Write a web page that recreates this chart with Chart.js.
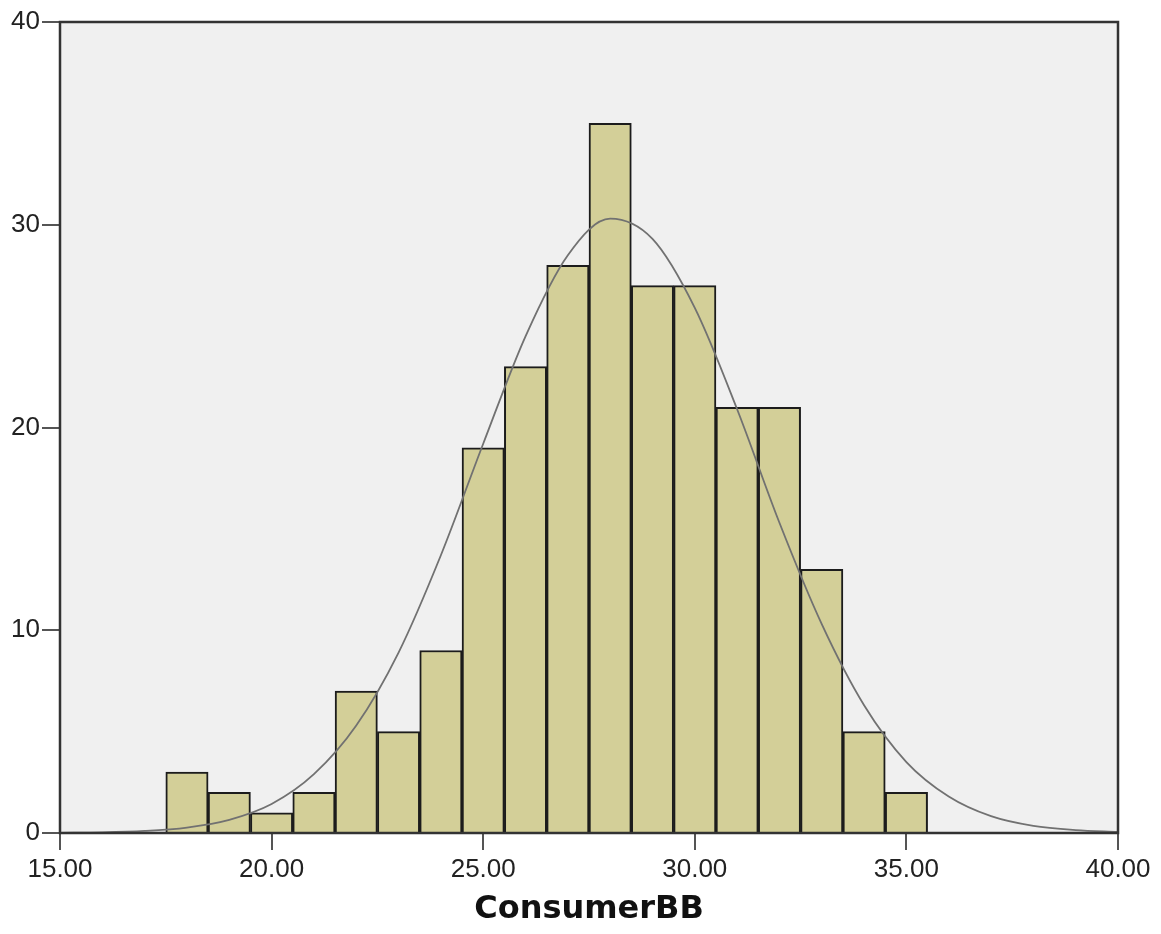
<!DOCTYPE html>
<html>
<head>
<meta charset="utf-8">
<script src="https://cdn.jsdelivr.net/npm/chart.js@4/dist/chart.umd.min.js"></script>
<style>
  body { margin: 0; background: #fff; }
  canvas { display: block; }
</style>
</head>
<body>
<canvas id="histChart" width="1161" height="934"></canvas>
<script>
// bins of width 1, given by their centers
let binCenters = [18, 19, 20, 21, 22, 23, 24, 25, 26, 27, 28, 29, 30, 31, 32, 33, 34, 35];
let counts = [3, 2, 1, 2, 7, 5, 9, 19, 23, 28, 35, 27, 27, 21, 21, 13, 5, 2];

// normal curve, read at whole values
let curveX = [15, 16, 17, 18, 19, 20, 21, 22, 23, 24, 25, 26, 27, 28, 29, 30, 31, 32, 33, 34, 35, 36, 37, 38, 39, 40];
let curveY = [0.01, 0.03, 0.1, 0.27, 0.65, 1.43, 2.9, 5.3, 8.9, 13.7, 19.2, 24.5, 28.5, 30.3, 29.3, 25.9, 20.9, 15.3, 10.3, 6.3, 3.5, 1.8, 0.83, 0.35, 0.14, 0.05];

let xTicks = [15, 20, 25, 30, 35, 40];
let yTicks = [0, 10, 20, 30, 40];

// plot background and the frame round it
const frame = {
    id: "frame",
    beforeDatasetsDraw(chart) {
        const a = chart.chartArea;
        const c = chart.ctx;
        c.save();
        c.fillStyle = "#f0f0f0";
        c.fillRect(a.left, a.top, a.right - a.left, a.bottom - a.top);
        c.restore();
    },
    afterDatasetsDraw(chart) {
        const a = chart.chartArea;
        const c = chart.ctx;
        c.save();
        c.strokeStyle = "#333";
        c.lineWidth = 2.5;
        c.strokeRect(a.left, a.top, a.right - a.left, a.bottom - a.top);
        c.restore();
    }
};

let ctx = document.getElementById("histChart").getContext("2d");

let chart = new Chart(ctx, {
    type: "bar",
    data: {
        datasets: [{
            type: "line",
            data: curveX.map((x, i) => ({ x: x, y: curveY[i] })),
            borderColor: "#717171",
            borderWidth: 1.8,
            pointRadius: 0,
            cubicInterpolationMode: "monotone",
            order: 0
        }, {
            data: binCenters.map((x, i) => ({ x: x, y: counts[i] })),
            backgroundColor: "#d3cf98",
            borderColor: "#1c1c1c",
            borderWidth: 2,
            barPercentage: 1,
            categoryPercentage: 1,
            order: 1
        }]
    },
    options: {
        responsive: false,
        devicePixelRatio: 1,
        animation: false,
        layout: { padding: { left: 0, top: 22, right: 43, bottom: 0 } },
        plugins: {
            legend: { display: false },
            tooltip: { enabled: false }
        },
        scales: {
            x: {
                type: "linear",
                min: 15,
                max: 40,
                offset: false,
                afterBuildTicks: (s) => { s.ticks = xTicks.map(v => ({ value: v })); },
                afterFit: (s) => { s.height = 101; },
                border: { display: false },
                grid: { offset: false, drawOnChartArea: false, drawTicks: true, tickLength: 17, color: "#555", lineWidth: 2 },
                ticks: {
                    padding: 4,
                    color: "#222",
                    font: { family: "Liberation Sans", size: 26 },
                    maxRotation: 0,
                    callback: (v) => v.toFixed(2)
                },
                title: {
                    display: true,
                    text: "ConsumerBB",
                    color: "#111",
                    font: { family: "DejaVu Sans", size: 32, weight: "bold" },
                    padding: { top: 0, bottom: 5 }
                }
            },
            y: {
                min: 0,
                max: 40,
                afterBuildTicks: (s) => { s.ticks = yTicks.map(v => ({ value: v })); },
                afterFit: (s) => { s.width = 60; },
                border: { display: false },
                grid: { drawOnChartArea: false, drawTicks: true, tickLength: 18, color: "#555", lineWidth: 2 },
                ticks: {
                    padding: 2,
                    color: "#222",
                    font: { family: "Liberation Sans", size: 26 }
                }
            }
        }
    },
    plugins: [frame]
});
</script>
</body>
</html>
